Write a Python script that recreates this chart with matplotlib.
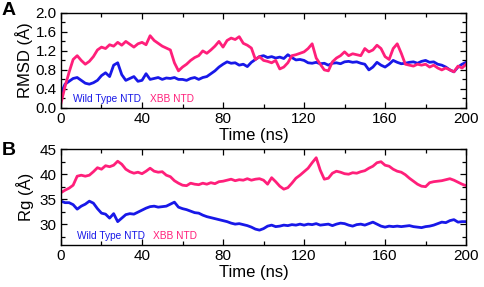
import numpy as np
import matplotlib
matplotlib.use('Agg')
import matplotlib.pyplot as plt
from matplotlib.ticker import MultipleLocator

plt.rcParams['font.family'] = ['Liberation Sans', 'DejaVu Sans']

# time axis (ns), 2 ns steps
time_ns = np.arange(0, 201, 2)

rmsd_wt = [0.30, 0.50, 0.56, 0.62, 0.64, 0.58, 0.52, 0.50, 0.53, 0.58,
           0.68, 0.74, 0.66, 0.90, 0.95, 0.70, 0.58, 0.62, 0.66, 0.56,
           0.58, 0.72, 0.60, 0.62, 0.64, 0.60, 0.63, 0.62, 0.64, 0.60,
           0.60, 0.58, 0.62, 0.64, 0.60, 0.64, 0.66, 0.72, 0.78, 0.86,
           0.92, 0.97, 0.94, 0.95, 0.90, 0.92, 0.87, 0.96, 1.02, 1.08,
           1.10, 1.06, 1.08, 1.05, 1.07, 1.04, 1.12, 1.06, 1.01, 1.02,
           1.00, 0.95, 0.94, 0.96, 0.93, 0.94, 0.90, 0.94, 0.95, 0.93,
           0.97, 0.98, 0.96, 0.97, 0.94, 0.92, 0.80, 0.86, 0.96, 0.90,
           0.86, 0.92, 1.00, 0.96, 0.93, 0.94, 0.96, 0.97, 0.94, 0.98,
           1.00, 0.96, 0.97, 0.92, 0.90, 0.86, 0.80, 0.76, 0.86, 0.92,
           0.96]

rmsd_xbb = [0.10, 0.45, 0.75, 1.02, 1.10, 1.00, 0.92, 0.98, 1.08, 1.22,
            1.28, 1.25, 1.33, 1.30, 1.38, 1.32, 1.40, 1.34, 1.28, 1.35,
            1.38, 1.33, 1.52, 1.42, 1.36, 1.30, 1.26, 1.22, 0.95, 0.78,
            0.86, 0.92, 1.00, 1.06, 1.10, 1.20, 1.15, 1.22, 1.30, 1.40,
            1.28, 1.42, 1.47, 1.44, 1.50, 1.36, 1.32, 1.26, 1.02, 1.08,
            1.00, 0.98, 0.95, 1.00, 0.82, 0.86, 0.95, 1.10, 1.12, 1.15,
            1.18, 1.25, 1.35, 1.05, 0.92, 0.80, 0.78, 0.97, 1.05, 1.10,
            1.18, 1.10, 1.14, 1.12, 1.10, 1.25, 1.18, 1.22, 1.32, 1.25,
            1.08, 1.02, 1.25, 1.35, 1.15, 0.92, 0.90, 0.88, 0.92, 0.90,
            0.92, 0.86, 0.90, 0.84, 0.80, 0.84, 0.80, 0.76, 0.88, 0.84,
            0.92]

rg_wt = [34.6, 34.3, 34.3, 33.9, 33.0, 33.6, 34.0, 34.6, 34.2, 33.1,
         32.2, 32.0, 31.2, 32.1, 30.5, 31.2, 31.9, 32.1, 32.0, 32.4,
         32.8, 33.2, 33.5, 33.6, 33.4, 33.5, 33.6, 34.0, 34.4, 33.4,
         33.1, 32.9, 32.6, 32.3, 32.2, 31.8, 31.5, 31.3, 31.1, 30.9,
         30.7, 30.5, 30.2, 30.0, 30.1, 29.9, 29.7, 29.4, 29.0, 28.8,
         29.1, 29.6, 29.8, 29.5, 29.6, 29.8, 29.7, 29.9, 29.8, 30.0,
         29.8, 30.0, 29.9, 30.1, 29.8, 29.9, 30.0, 29.7, 30.0, 30.2,
         30.1, 29.8, 29.6, 29.9, 30.0, 29.8, 30.1, 30.4, 30.0, 29.6,
         29.4, 29.6, 29.5, 29.6, 29.5, 29.6, 29.7, 29.5, 29.4, 29.3,
         29.5, 29.6, 29.8, 30.1, 30.4, 30.3, 30.7, 30.9, 30.4, 30.5,
         30.5]

rg_xbb = [36.3, 36.8, 37.2, 37.8, 39.6, 39.8, 39.6, 39.8, 40.5, 41.3,
          41.0, 41.7, 41.5, 41.8, 42.6, 42.0, 41.0, 40.5, 40.2, 40.4,
          40.1, 40.6, 41.2, 40.6, 40.4, 40.5, 39.8, 39.5, 38.7, 38.2,
          37.8, 37.7, 38.2, 38.0, 37.9, 38.2, 38.0, 38.3, 38.1, 38.5,
          38.6, 38.8, 39.0, 38.7, 38.9, 38.8, 39.1, 38.8, 39.0, 39.1,
          38.8, 38.0, 39.3, 38.5, 37.6, 37.0, 37.3, 38.2, 39.2, 39.8,
          40.5, 41.2, 42.3, 43.3, 40.8, 39.0, 39.2, 40.2, 40.6, 40.4,
          40.1, 40.0, 40.3, 40.2, 40.5, 40.7, 41.2, 41.6, 42.3, 42.5,
          41.8, 41.6, 41.0, 40.6, 40.4, 39.9, 39.2, 38.6, 38.0, 37.6,
          37.5, 38.3, 38.5, 38.6, 38.7, 38.9, 39.1, 38.8, 38.4, 38.0,
          37.7]

blue = '#1818e8'
pink = '#ff1f7a'

fig = plt.figure(figsize=(4.84, 2.87), dpi=100)
axA = fig.add_axes([0.126, 0.624, 0.837, 0.331])
axB = fig.add_axes([0.126, 0.146, 0.837, 0.334])


def style(ax):
    ax.set_xlim(0, 200)
    ax.xaxis.set_major_locator(MultipleLocator(40))
    ax.xaxis.set_minor_locator(MultipleLocator(20))
    ax.tick_params(which='both', direction='in', top=True, right=True,
                   labelsize=11, width=0.9, pad=3)
    ax.tick_params(which='major', length=4.5)
    ax.tick_params(which='minor', length=3)
    for s in ax.spines.values():
        s.set_linewidth(1.0)
    ax.set_xlabel('Time (ns)', fontsize=12, labelpad=-1)
    ax.xaxis.set_label_coords(0.475, -0.21)


# panel A: RMSD
axA.plot(time_ns, rmsd_wt, color=blue, lw=2.0)
axA.plot(time_ns, rmsd_xbb, color=pink, lw=2.0)
axA.set_ylim(0, 2.0)
axA.yaxis.set_major_locator(MultipleLocator(0.4))
axA.yaxis.set_minor_locator(MultipleLocator(0.2))
axA.yaxis.set_major_formatter(plt.FormatStrFormatter('%.1f'))
axA.set_ylabel('RMSD (Å)', fontsize=12, labelpad=2)
style(axA)
axA.text(0.03, 0.06, 'Wild Type NTD', color=blue, fontsize=7.3,
         transform=axA.transAxes)
axA.text(0.22, 0.06, 'XBB NTD', color=pink, fontsize=7.3,
         transform=axA.transAxes)

# panel B: Rg
axB.plot(time_ns, rg_wt, color=blue, lw=2.0)
axB.plot(time_ns, rg_xbb, color=pink, lw=2.0)
axB.set_ylim(25.8, 45)
axB.yaxis.set_major_locator(MultipleLocator(5))
axB.yaxis.set_minor_locator(MultipleLocator(2.5))
axB.set_ylabel('Rg (Å)', fontsize=12, labelpad=4)
style(axB)
axB.text(0.04, 0.06, 'Wild Type NTD', color=blue, fontsize=7.3,
         transform=axB.transAxes)
axB.text(0.228, 0.06, 'XBB NTD', color=pink, fontsize=7.3,
         transform=axB.transAxes)

fig.text(0.004, 0.965, 'A', fontsize=14, fontweight='bold', va='center')
fig.text(0.004, 0.475, 'B', fontsize=14, fontweight='bold', va='center')

fig.savefig('out.png', dpi=100)
